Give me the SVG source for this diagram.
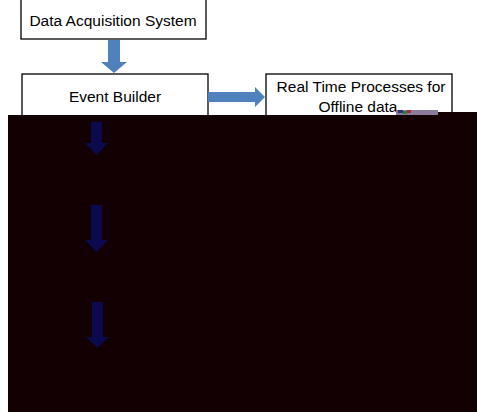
<svg xmlns="http://www.w3.org/2000/svg" width="477" height="412" viewBox="0 0 477 412">
<style>
.box{fill:#ffffff;stroke:#000000;stroke-width:1.3}
.lbl{font-family:"Liberation Sans",Arial,sans-serif;font-size:15.5px;fill:#000000;text-anchor:middle}
.blue{fill:#4f81bd}
.navy{fill:#0c0a4e}
</style>
<rect x="0" y="0" width="477" height="412" fill="#ffffff"/>
<g id="node-daq">
<rect class="box" x="21" y="-2" width="185" height="41"/>
<text class="lbl" x="113" y="26">Data Acquisition System</text>
</g>
<g id="node-event-builder">
<rect class="box" x="22" y="74" width="186" height="60"/>
<text class="lbl" x="115" y="102">Event Builder</text>
</g>
<g id="node-realtime">
<rect class="box" x="266" y="74" width="186" height="60"/>
<text class="lbl" x="361" y="92">Real Time Processes for</text>
<text class="lbl" x="358" y="112">Offline data</text>
</g>
<g id="connectors">
<polygon class="blue" points="108,40 120,40 120,62 127,62 114,73 101,62 108,62"/>
<polygon class="blue" points="208,92 255,92 255,87 265,97 255,107 255,102 208,102"/>
</g>
<g id="occlusion">
<rect x="8" y="115" width="469" height="297" fill="#120002"/>
<rect x="430" y="112" width="47" height="4" fill="#120002"/>
<rect x="396" y="110" width="42" height="5" fill="#8c7c9c"/>
<rect x="398" y="110" width="5" height="3" fill="#3a2a8a"/>
<rect x="403" y="111" width="4" height="3" fill="#1a8a3a"/>
<rect x="407" y="110" width="4" height="3" fill="#c02040"/>
</g>
<g id="hidden-connectors">
<polygon class="navy" points="91,122 102,122 102,143 108,143 96.5,155 85,143 91,143"/>
<polygon class="navy" points="91,205 102,205 102,240 108,240 96.5,252 85,240 91,240"/>
<polygon class="navy" points="92,302 103,302 103,337 109,337 97.5,348 86,337 92,337"/>
</g>
</svg>
